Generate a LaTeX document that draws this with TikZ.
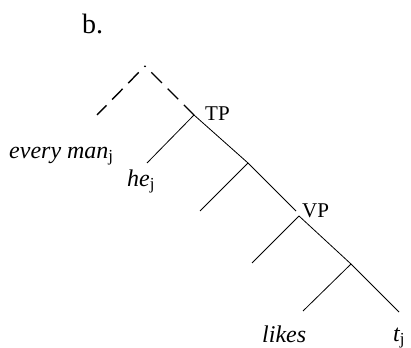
\documentclass[tikz,border=0pt]{standalone}
\usepackage{fontspec}
\setmainfont{Liberation Serif}
\usepackage{tikz}
\usetikzlibrary{positioning}
\definecolor{my_black}{HTML}{000000}

\begin{document}
\begin{tikzpicture}[
    x=1pt, y=-1pt,
    branch/.style={my_black, line width=0.8pt},
    trace/.style={my_black, line width=1.4pt, dash pattern=on 15pt off 8pt, dash phase=14pt},
    cat/.style={anchor=base west, inner sep=0pt, font=\fontsize{21}{21}\selectfont},
    word/.style={anchor=base west, inner sep=0pt, font=\fontsize{24}{24}\selectfont\itshape}
]
\useasboundingbox (0, 0) rectangle (411, 347);

% ---------------------------------------------------------------
%  Baum mit angehobenem Quantor (gestrichelt) ueber TP
% ---------------------------------------------------------------

% ---- Verzweigungspunkte ----
\coordinate (top) at (145, 66);
\coordinate (spec) at (97, 115);
\coordinate (tp) at (194, 115);
\coordinate (he) at (147, 163);
\coordinate (tbar) at (248, 163);
\coordinate (tlow) at (200, 211);
\coordinate (vpin) at (296, 211);
\coordinate (vp) at (299, 216);
\coordinate (vpl) at (252, 263);
\coordinate (vbar) at (351, 264);
\coordinate (verb) at (303, 311);
\coordinate (obj) at (399, 312);

% ---- Beschriftungen ----
\node[anchor=base west, inner sep=0pt, font=\fontsize{28}{28}\selectfont] (label) at (82, 34) {b.};
\node[cat] (tplabel) at (205, 121) {TP};
\node[cat] (vplabel) at (302, 217) {VP};
\node[word] (everyman) at (9, 158) {every man\textsubscript{\upshape j}};
\node[word] (hej) at (127, 186) {he\textsubscript{\upshape j}};
\node[word] (likes) at (262, 342) {likes};
\node[word] (tj) at (393, 341) {t\textsubscript{\upshape j}};

% ---- Kanten ----
\draw[trace] (top) -- (spec);
\draw[trace] (top) -- (tp);
\draw[branch] (tp) -- (he);
\draw[branch] (tp) -- (tbar);
\draw[branch] (tbar) -- (tlow);
\draw[branch] (tbar) -- (vpin);
\draw[branch] (vp) -- (vpl);
\draw[branch] (vp) -- (vbar);
\draw[branch] (vbar) -- (verb);
\draw[branch] (vbar) -- (obj);

\end{tikzpicture}
\end{document}
